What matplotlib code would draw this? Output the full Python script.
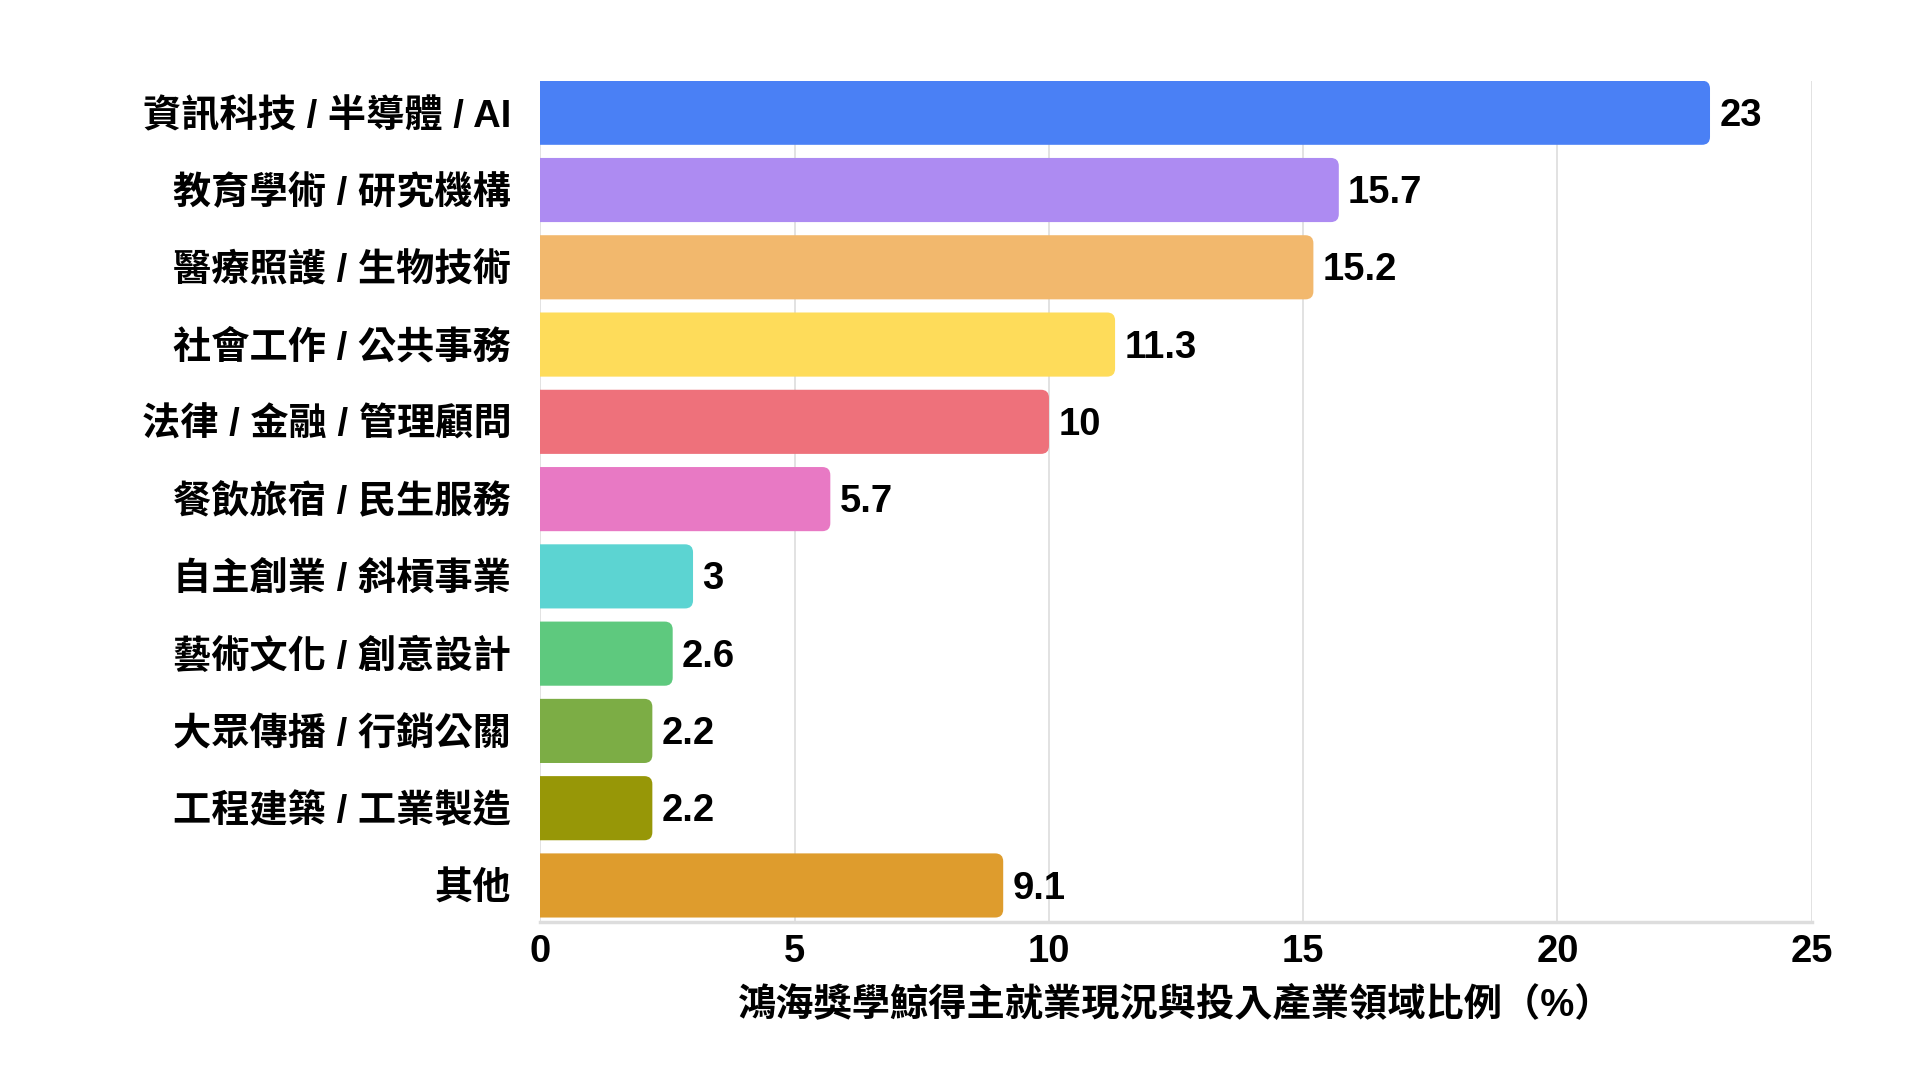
import matplotlib
matplotlib.use("Agg")
import matplotlib.pyplot as plt
from matplotlib.patches import FancyBboxPatch

plt.rcParams['font.family'] = ['Liberation Sans', 'Noto Sans CJK TC', 'DejaVu Sans']
plt.rcParams['font.weight'] = 'bold'

categories = [
    "資訊科技 / 半導體 / AI",
    "教育學術 / 研究機構",
    "醫療照護 / 生物技術",
    "社會工作 / 公共事務",
    "法律 / 金融 / 管理顧問",
    "餐飲旅宿 / 民生服務",
    "自主創業 / 斜槓事業",
    "藝術文化 / 創意設計",
    "大眾傳播 / 行銷公關",
    "工程建築 / 工業製造",
    "其他",
]
values = [23, 15.7, 15.2, 11.3, 10, 5.7, 3, 2.6, 2.2, 2.2, 9.1]
value_labels = ["23", "15.7", "15.2", "11.3", "10", "5.7", "3", "2.6", "2.2", "2.2", "9.1"]
colors = ["#4A80F5", "#AD8BF2", "#F2B86D", "#FEDC5A", "#EE717B", "#E879C4",
          "#5CD4D2", "#5EC97E", "#7CAD45", "#979707", "#DE9C2D"]
xticks = [0, 5, 10, 15, 20, 25]
xlabel = "鴻海獎學鯨得主就業現況與投入產業領域比例（%）"

FS = 27.5

fig = plt.figure(figsize=(19.2, 10.8), dpi=100)
ax = fig.add_axes([0.2815, 0.1465, 0.9436 - 0.2815, 0.9253 - 0.1465])

pos = list(range(len(categories)))
bars = ax.barh(pos, values, height=0.83, color=colors, zorder=2)

# rounded right corners: replace each bar by a rounded box starting left of 0 (clipped)
xs = 51.0  # px per x unit
ys = 77.0  # px per slot
r = 8.0 / xs
for b, c in zip(bars, colors):
    b.set_visible(False)
    x0 = b.get_x() - 0.5
    p = FancyBboxPatch((x0, b.get_y()), b.get_width() + 0.5, b.get_height(),
                       boxstyle="round,pad=0,rounding_size=%f" % r,
                       mutation_aspect=xs / ys,
                       facecolor=c, edgecolor="none", zorder=2)
    ax.add_patch(p)

for i, (v, lab) in enumerate(zip(values, value_labels)):
    ax.text(v + 0.18, i + 0.04, lab, va="center", ha="left", fontsize=FS,
            fontweight="bold", color="black")

ax.set_xlim(0, 25)
ax.set_ylim(10.47, -0.415)
ax.set_yticks(pos)
ax.set_yticklabels(categories, fontsize=FS, fontweight="bold")
ax.set_xticks(xticks)
ax.set_xticklabels([str(t) for t in xticks], fontsize=FS, fontweight="bold")
ax.tick_params(axis="both", length=0)
ax.tick_params(axis="y", pad=21)
ax.tick_params(axis="x", pad=9)

ax.grid(axis="x", color="#DDDDDD", linewidth=1.2, zorder=0)
ax.set_axisbelow(True)
for s in ["top", "right", "left"]:
    ax.spines[s].set_visible(False)
ax.spines["bottom"].set_color("#DDDDDD")
ax.spines["bottom"].set_linewidth(2.5)

ax.set_xlabel(xlabel, fontsize=FS, fontweight="bold", labelpad=12)

fig.savefig("out.png", dpi=100, facecolor="white")
